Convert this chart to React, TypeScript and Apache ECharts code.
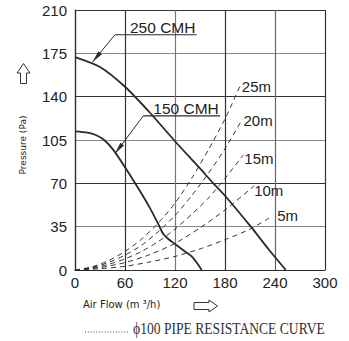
import React, { useEffect, useRef } from "react";
import * as echarts from "echarts";

// ---- axes ----
const X_MIN = 0;
const X_MAX = 300;
const X_STEP = 60;
const Y_MIN = 0;
const Y_MAX = 210;
const Y_STEP = 35;

// ---- fan curves (air flow m3/h, pressure Pa) ----
const fan250: [number, number][] = [
  [0, 172], [30, 164], [60, 148], [90, 127], [120, 104], [150, 82],
  [166, 70], [180, 60], [211, 35], [232, 17], [253, 0],
];
const fan150: [number, number][] = [
  [0, 112], [15, 111], [25, 109], [35, 105], [46, 97], [60, 83], [75, 67],
  [90, 50], [100, 37], [106, 29], [112, 25], [120, 21], [132, 15],
  [140, 11], [146, 6], [152, 0],
];

// ---- pipe resistance curves ----
const pipe25: [number, number][] = [
  [0, 0], [20, 2.5], [40, 7.5], [60, 15], [80, 25], [100, 38], [120, 54],
  [140, 74], [160, 97], [180, 122], [199, 150],
];
const pipe20: [number, number][] = [
  [0, 0], [20, 2], [40, 6], [60, 12], [80, 20], [100, 31], [120, 44],
  [140, 60], [160, 78], [180, 98], [201, 122],
];
const pipe15: [number, number][] = [
  [0, 0], [20, 1.5], [40, 4.5], [60, 9], [80, 15], [100, 23], [120, 33],
  [140, 45], [160, 58], [180, 74], [202, 93],
];
const pipe10: [number, number][] = [
  [0, 0], [30, 2], [60, 6], [90, 12.5], [120, 21.5], [150, 34], [180, 48.5],
  [215, 68],
];
const pipe5: [number, number][] = [
  [0, 0], [30, 1], [60, 3], [90, 6.5], [120, 11], [150, 17], [180, 24.5],
  [210, 33], [233, 42],
];

const pipeCurves = [pipe5, pipe10, pipe15, pipe20, pipe25];
const pipeLabels = ["5m", "10m", "15m", "20m", "25m"];
const pipeLabelOffsets: [number, number][] = [[8, -3], [0, 5], [1, 4], [1, 2], [1, 2]];

const fanLabels = ["250 CMH", "150 CMH"];
// annotation anchors in data units: underline start x, underline end x, underline y, arrow tip
const fanAnno = [
  { x0: 48, x1: 146, y: 190, tip: [21, 168], textX: 66 },
  { x0: 82, x1: 174, y: 124.5, tip: [48, 94], textX: 94 },
];

const xTitle = "Air Flow (m ³/h)";
const yTitle = "Pressure (Pa)";
const footnote = "ϕ100 PIPE RESISTANCE CURVE";

const INK = "#2a2a2a";

export default function App() {
  const ref = useRef<HTMLDivElement>(null);

  useEffect(() => {
    if (!ref.current) return;
    const chart = echarts.init(ref.current, undefined, { renderer: "svg" });

    const series: any[] = [
      {
        type: "line",
        data: fan250,
        smooth: 0.25,
        symbol: "none",
        silent: true,
        z: 5,
        lineStyle: { color: INK, width: 1.8 },
      },
      {
        type: "line",
        data: fan150,
        smooth: 0.25,
        symbol: "none",
        silent: true,
        z: 5,
        lineStyle: { color: INK, width: 1.8 },
      },
      ...pipeCurves.map((d) => ({
        type: "line",
        data: d,
        smooth: 0.25,
        symbol: "none",
        silent: true,
        z: 4,
        lineStyle: { color: "#333", width: 1, type: [5, 4] },
      })),
    ];

    chart.setOption({
      animation: false,
      textStyle: { fontFamily: "Liberation Sans" },
      grid: { left: 75, right: 24, top: 10, bottom: 71 },
      xAxis: {
        type: "value",
        min: X_MIN,
        max: X_MAX,
        interval: X_STEP,
        axisLine: { show: true, lineStyle: { color: INK, width: 1.2 } },
        axisTick: { show: false },
        axisLabel: { color: "#222", fontSize: 15, margin: 5, fontFamily: "Liberation Sans" },
        splitLine: {
          show: true,
          lineStyle: { color: ["#333", "#333", "#777", "#333", "#666", "#333"], width: 1.2 },
        },
      },
      yAxis: {
        type: "value",
        min: Y_MIN,
        max: Y_MAX,
        interval: Y_STEP,
        axisLine: { show: true, lineStyle: { color: INK, width: 1.2 } },
        axisTick: { show: false },
        axisLabel: { color: "#222", fontSize: 15, margin: 8, fontFamily: "Liberation Sans" },
        splitLine: { show: true, lineStyle: { color: ["#333", "#888"], width: 1.2 } },
      },
      series,
    });

    const px = (p: number[]) =>
      chart.convertToPixel({ xAxisIndex: 0, yAxisIndex: 0 }, p) as number[];

    const graphics: any[] = [];

    // fan annotations
    fanAnno.forEach((a, i) => {
      const s = px([a.x0, a.y]);
      const e = px([a.x1, a.y]);
      const t = px(a.tip);
      graphics.push({
        type: "line",
        shape: { x1: s[0], y1: s[1], x2: e[0], y2: e[1] },
        style: { stroke: INK, lineWidth: 1.2 },
      });
      graphics.push({
        type: "line",
        shape: { x1: s[0], y1: s[1], x2: t[0], y2: t[1] },
        style: { stroke: INK, lineWidth: 1 },
      });
      const dx = t[0] - s[0];
      const dy = t[1] - s[1];
      const len = Math.hypot(dx, dy);
      const ux = dx / len;
      const uy = dy / len;
      const L = 12;
      const W = 2.3;
      const bx = t[0] - ux * L;
      const by = t[1] - uy * L;
      graphics.push({
        type: "polygon",
        shape: {
          points: [
            [t[0], t[1]],
            [bx - uy * W, by + ux * W],
            [bx + uy * W, by - ux * W],
          ],
        },
        style: { fill: INK },
      });
      const tp = px([a.textX, a.y]);
      graphics.push({
        type: "text",
        x: tp[0],
        y: tp[1] - 7.5,
        style: {
          text: fanLabels[i],
          fontSize: 15.5,
          fontFamily: "Liberation Sans",
          fill: "#222",
          align: "left",
          verticalAlign: "middle",
        },
      });
    });

    // pipe labels
    pipeCurves.forEach((d, i) => {
      const last = d[d.length - 1];
      const p = px(last);
      const off = pipeLabelOffsets[i];
      graphics.push({
        type: "text",
        x: p[0] + off[0],
        y: p[1] + off[1],
        style: {
          text: pipeLabels[i],
          fontSize: 15,
          fontFamily: "Liberation Sans",
          fill: "#222",
          align: "left",
          verticalAlign: "middle",
        },
      });
    });

    // axis titles
    graphics.push({
      type: "text",
      x: 22.5,
      y: 145,
      rotation: Math.PI / 2,
      style: {
        text: yTitle,
        fontSize: 9,
        fontFamily: "DejaVu Sans",
        fill: "#222",
        align: "center",
        verticalAlign: "middle",
      },
    });
    graphics.push({
      type: "polygon",
      shape: {
        points: [
          [23.5, 63.5], [17, 73], [20.5, 73], [20.5, 83.5], [26.5, 83.5], [26.5, 73], [30, 73],
        ],
      },
      style: { fill: "none", stroke: "#333", lineWidth: 1 },
    });
    graphics.push({
      type: "text",
      x: 83,
      y: 304,
      style: {
        text: xTitle,
        fontSize: 10,
        fontFamily: "DejaVu Sans",
        fill: "#222",
        align: "left",
        verticalAlign: "middle",
      },
    });
    graphics.push({
      type: "polygon",
      shape: {
        points: [
          [194, 302.5], [209, 302.5], [209, 300], [217.5, 306], [209, 312], [209, 309.5], [194, 309.5],
        ],
      },
      style: { fill: "none", stroke: "#333", lineWidth: 1 },
    });

    // footnote
    graphics.push({
      type: "line",
      shape: { x1: 85, y1: 332, x2: 128, y2: 332 },
      style: { stroke: "#444", lineWidth: 1, lineDash: [1, 1.8] },
    });
    graphics.push({
      type: "text",
      x: 133,
      y: 329,
      scaleX: 0.85,
      style: {
        text: footnote,
        fontSize: 16,
        fontFamily: "Liberation Serif",
        fill: "#333",
        align: "left",
        verticalAlign: "middle",
      },
    });

    chart.setOption({ graphic: graphics });

    return () => chart.dispose();
  }, []);

  return <div ref={ref} style={{ width: 349, height: 341, position: "absolute", left: 0, top: 0 }} />;
}
